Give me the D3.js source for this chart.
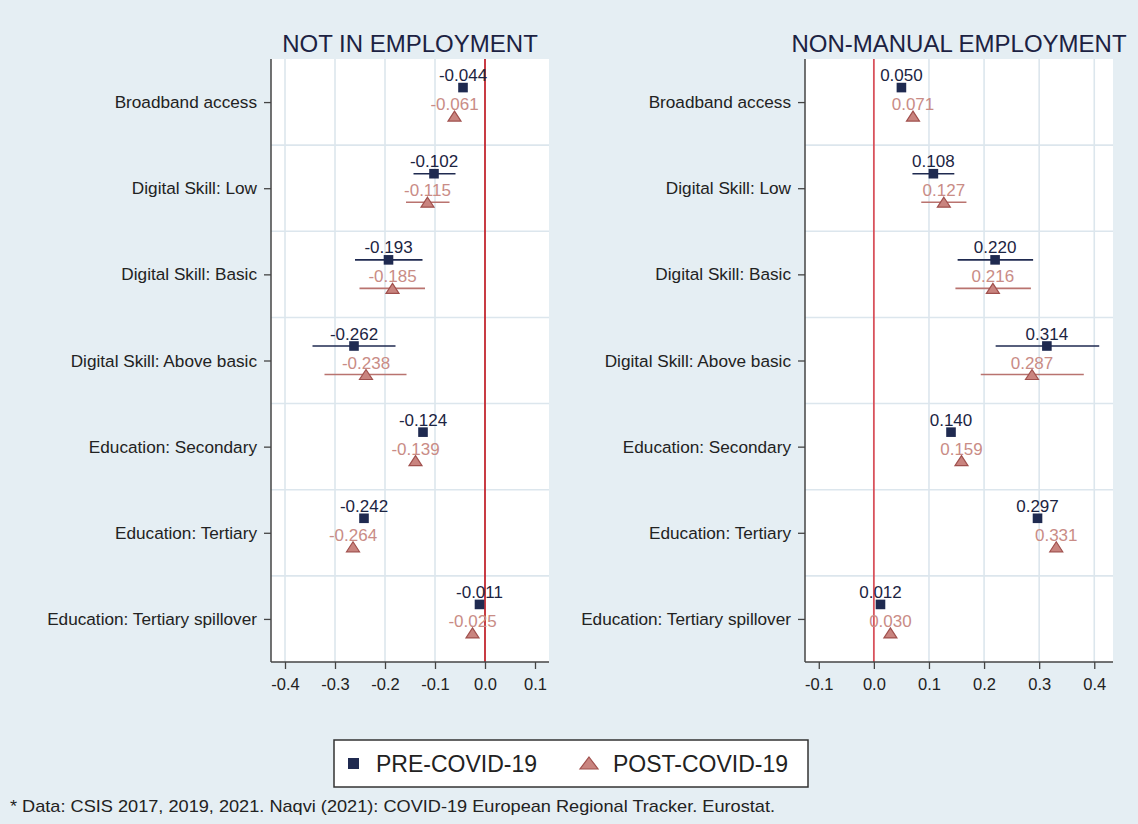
<!DOCTYPE html>
<html>
<head>
<meta charset="utf-8">
<script src="https://cdn.jsdelivr.net/npm/d3@7"></script>
<style>
  html, body { margin: 0; padding: 0; background: #e5eef3; }
  svg { display: block; font-family: "Liberation Sans", Arial, sans-serif; }
</style>
</head>
<body>
<svg id="chart" width="1138" height="824"></svg>
<script>
// Regressors (rows, top to bottom)
const categories = [
  "Broadband access",
  "Digital Skill: Low",
  "Digital Skill: Basic",
  "Digital Skill: Above basic",
  "Education: Secondary",
  "Education: Tertiary",
  "Education: Tertiary spillover"
];

// NOT IN EMPLOYMENT: point estimates and confidence bounds (null = no interval shown)
const notEmpPre     = [-0.044, -0.102, -0.193, -0.262, -0.124, -0.242, -0.011];
const notEmpPost    = [-0.061, -0.115, -0.185, -0.238, -0.139, -0.264, -0.025];
const notEmpPreLo   = [null, -0.143, -0.260, -0.345, null, null, null];
const notEmpPreHi   = [null, -0.059, -0.125, -0.179, null, null, null];
const notEmpPostLo  = [null, -0.158, -0.251, -0.321, null, null, null];
const notEmpPostHi  = [null, -0.071, -0.120, -0.157, null, null, null];

// NON-MANUAL EMPLOYMENT
const nonManPre     = [0.050, 0.108, 0.220, 0.314, 0.140, 0.297, 0.012];
const nonManPost    = [0.071, 0.127, 0.216, 0.287, 0.159, 0.331, 0.030];
const nonManPreLo   = [null, 0.070, 0.152, 0.221, null, null, null];
const nonManPreHi   = [null, 0.146, 0.289, 0.409, null, null, null];
const nonManPostLo  = [null, 0.086, 0.148, 0.194, null, null, null];
const nonManPostHi  = [null, 0.168, 0.285, 0.381, null, null, null];

// Axis ticks
const leftTicks  = [-0.4, -0.3, -0.2, -0.1, 0.0, 0.1];
const rightTicks = [-0.1, 0.0, 0.1, 0.2, 0.3, 0.4];

const seriesNames = ["PRE-COVID-19", "POST-COVID-19"];
const footnote = "* Data: CSIS 2017, 2019, 2021. Naqvi (2021): COVID-19 European Regional Tracker. Eurostat.";

// Styling
const C = {
  bg: "#e5eef3",
  grid: "#dce6ed",
  axis: "#444444",
  text: "#222222",
  title: "#1c2242",
  pre: "#1f2a50",
  preLabel: "#1c2442",
  postLine: "#b9736f",
  postFill: "#c9847f",
  postStroke: "#a0504d",
  postLabel: "#c98c86"
};

const fmt = v => v.toFixed(3);          // hyphen-minus, three decimals
const tickFmt = v => v.toFixed(1);

const svg = d3.select("#chart");
svg.append("rect").attr("width", 1138).attr("height", 824).attr("fill", C.bg);

const plotTop = 59, plotBottom = 662;
const y = d3.scalePoint().domain(categories).range([plotTop, plotBottom]).padding(0.5);

const panels = [
  {
    title: "NOT IN EMPLOYMENT", x0: 271, x1: 549, domain: [-0.428, 0.128],
    ticks: leftTicks, grid: [-0.4, -0.3, -0.2, -0.1], zeroColor: "#c3262f",
    pre: notEmpPre, post: notEmpPost,
    preLo: notEmpPreLo, preHi: notEmpPreHi, postLo: notEmpPostLo, postHi: notEmpPostHi
  },
  {
    title: "NON-MANUAL EMPLOYMENT", x0: 805, x1: 1113, domain: [-0.125, 0.434],
    ticks: rightTicks, grid: [0.1, 0.2, 0.3, 0.4], zeroColor: "#d8525c",
    pre: nonManPre, post: nonManPost,
    preLo: nonManPreLo, preHi: nonManPreHi, postLo: nonManPostLo, postHi: nonManPostHi
  }
];

const triangle = (cx, cy) => {
  const w = 13, h = 10;
  return `M${cx},${cy - h * 0.5}L${cx + w / 2},${cy + h * 0.5}L${cx - w / 2},${cy + h * 0.5}Z`;
};

panels.forEach(p => {
  const x = d3.scaleLinear().domain(p.domain).range([p.x0, p.x1]);
  const g = svg.append("g");

  // plot region
  g.append("rect").attr("x", p.x0).attr("y", plotTop)
    .attr("width", p.x1 - p.x0).attr("height", plotBottom - plotTop).attr("fill", "#ffffff");

  // horizontal gridlines between rows
  const step = y.step();
  const hLines = categories.slice(0, -1).map(c => y(c) + step / 2);
  g.selectAll(".hgrid").data(hLines).join("line")
    .attr("x1", p.x0).attr("x2", p.x1).attr("y1", d => d).attr("y2", d => d)
    .attr("stroke", C.grid).attr("stroke-width", 1.6);

  // vertical gridlines
  g.selectAll(".vgrid").data(p.grid).join("line")
    .attr("x1", d => x(d)).attr("x2", d => x(d)).attr("y1", plotTop).attr("y2", plotBottom)
    .attr("stroke", C.grid).attr("stroke-width", 1.6);

  // zero reference line
  g.append("line").attr("x1", x(0)).attr("x2", x(0)).attr("y1", plotTop).attr("y2", plotBottom)
    .attr("stroke", p.zeroColor).attr("stroke-width", 1.8);

  // x axis
  const xAxis = d3.axisBottom(x).tickValues(p.ticks).tickFormat(tickFmt).tickSize(7).tickPadding(9);
  const gx = g.append("g").attr("transform", `translate(0,${plotBottom})`).call(xAxis);
  gx.select(".domain").attr("stroke", C.axis).attr("stroke-width", 1.5)
    .attr("d", `M${p.x0},0H${p.x1}`);
  gx.selectAll(".tick line").attr("stroke", C.axis).attr("stroke-width", 1.3);
  gx.selectAll(".tick text").attr("fill", C.text).attr("font-size", 16.5)
    .attr("font-family", "Liberation Sans, Arial, sans-serif");

  // y axis
  const yAxis = d3.axisLeft(y).tickSize(7).tickPadding(7);
  const gy = g.append("g").attr("transform", `translate(${p.x0},0)`).call(yAxis);
  gy.select(".domain").attr("stroke", C.axis).attr("stroke-width", 1.5)
    .attr("d", `M0,${plotTop}V${plotBottom}`);
  gy.selectAll(".tick line").attr("stroke", C.axis).attr("stroke-width", 1.3);
  gy.selectAll(".tick text").attr("fill", C.text).attr("font-size", 17.2)
    .attr("font-family", "Liberation Sans, Arial, sans-serif");

  // title
  g.append("text").attr("x", (p.x0 + p.x1) / 2).attr("y", 52)
    .attr("text-anchor", "middle").attr("font-size", 24).attr("fill", C.title)
    .text(p.title);

  const rows = categories.map((c, i) => ({
    c, pre: p.pre[i], post: p.post[i],
    preLo: p.preLo[i], preHi: p.preHi[i], postLo: p.postLo[i], postHi: p.postHi[i]
  }));
  const preOff = -14.5, postOff = 14;

  // confidence intervals
  g.selectAll(".preci").data(rows.filter(d => d.preLo !== null)).join("line")
    .attr("x1", d => x(d.preLo)).attr("x2", d => x(d.preHi))
    .attr("y1", d => y(d.c) + preOff).attr("y2", d => y(d.c) + preOff)
    .attr("stroke", C.pre).attr("stroke-width", 1.6);
  g.selectAll(".postci").data(rows.filter(d => d.postLo !== null)).join("line")
    .attr("x1", d => x(d.postLo)).attr("x2", d => x(d.postHi))
    .attr("y1", d => y(d.c) + postOff).attr("y2", d => y(d.c) + postOff)
    .attr("stroke", C.postLine).attr("stroke-width", 1.6);

  // pre-COVID markers
  g.selectAll(".presq").data(rows).join("rect")
    .attr("x", d => x(d.pre) - 4.8).attr("y", d => y(d.c) + preOff - 4.8)
    .attr("width", 9.6).attr("height", 9.6).attr("fill", C.pre);

  // post-COVID markers
  g.selectAll(".posttri").data(rows).join("path")
    .attr("d", d => triangle(x(d.post), y(d.c) + postOff))
    .attr("fill", C.postFill).attr("stroke", C.postStroke).attr("stroke-width", 1.2);

  // value labels
  g.selectAll(".prelab").data(rows).join("text")
    .attr("x", d => x(d.pre)).attr("y", d => y(d.c) - 21)
    .attr("text-anchor", "middle").attr("font-size", 17).attr("fill", C.preLabel)
    .text(d => fmt(d.pre));
  g.selectAll(".postlab").data(rows).join("text")
    .attr("x", d => x(d.post)).attr("y", d => y(d.c) + 8)
    .attr("text-anchor", "middle").attr("font-size", 17).attr("fill", C.postLabel)
    .text(d => fmt(d.post));
});

// legend
const lg = svg.append("g");
lg.append("rect").attr("x", 334).attr("y", 740).attr("width", 474).attr("height", 47)
  .attr("fill", "#ffffff").attr("stroke", "#333333").attr("stroke-width", 1.5);
lg.append("rect").attr("x", 348).attr("y", 758).attr("width", 11).attr("height", 11).attr("fill", C.pre);
lg.append("text").attr("x", 376).attr("y", 772).attr("font-size", 23).attr("fill", C.text).text(seriesNames[0]);
lg.append("path").attr("d", `M589,757L598,769L580,769Z`)
  .attr("fill", C.postFill).attr("stroke", C.postStroke).attr("stroke-width", 1.2);
lg.append("text").attr("x", 613).attr("y", 772).attr("font-size", 23).attr("fill", C.text).text(seriesNames[1]);

// footnote
svg.append("text").attr("x", 10).attr("y", 812).attr("font-size", 17)
  .attr("textLength", 765).attr("lengthAdjust", "spacingAndGlyphs")
  .attr("fill", C.text).text(footnote);
</script>
</body>
</html>
